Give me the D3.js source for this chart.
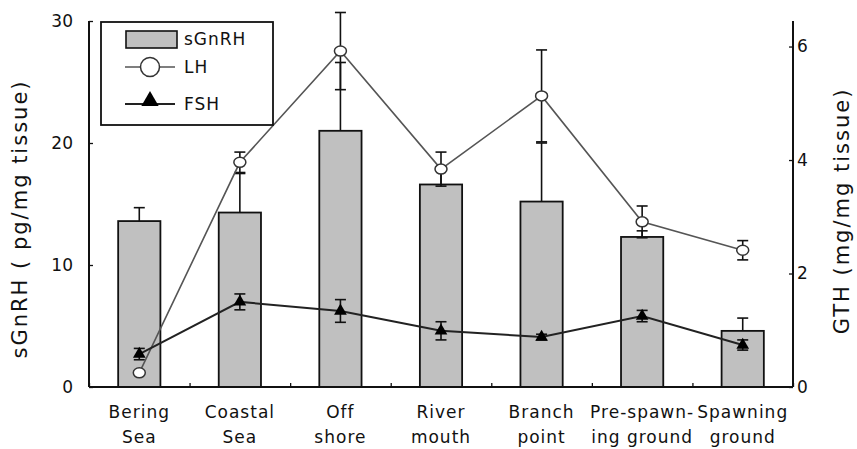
<!DOCTYPE html>
<html>
<head>
<meta charset="utf-8">
<script src="https://cdn.jsdelivr.net/npm/d3@7/dist/d3.min.js"></script>
<style>
  html, body { margin: 0; padding: 0; background: #fff; }
  svg { display: block; }
  text { font-family: "DejaVu Sans", "Liberation Sans", Arial, sans-serif; fill: #111; }
</style>
</head>
<body>
<svg id="chart" width="857" height="449"></svg>
<script>
// Sampling sites along the migration route (two-line labels)
const categories = [
  ["Bering", "Sea"],
  ["Coastal", "Sea"],
  ["Off", "shore"],
  ["River", "mouth"],
  ["Branch", "point"],
  ["Pre-spawn-", "ing ground"],
  ["Spawning", "ground"]
];

// sGnRH content (pg/mg tissue), left axis
const sGnRH    = [13.6, 14.3, 21.0, 16.6, 15.2, 12.3, 4.6];
const sGnRHErr = [1.1, 3.2, 5.6, 1.3, 4.8, 0.5, 1.05];

// LH content (mg/mg tissue), right axis
const LH    = [0.25, 3.96, 5.92, 3.84, 5.13, 2.91, 2.41];
const LHErr = [0, 0.18, 0.68, 0.3, 0.81, 0.28, 0.17];

// FSH content (mg/mg tissue), right axis
const FSH    = [0.58, 1.5, 1.34, 0.99, 0.88, 1.25, 0.74];
const FSHErr = [0.1, 0.14, 0.2, 0.16, 0.05, 0.1, 0.09];

const leftTicks  = [0, 10, 20, 30];
const rightTicks = [0, 2, 4, 6];

const svg = d3.select("#chart");
const plot = { left: 89, right: 793, top: 21, bottom: 387 };

const idx = d3.range(categories.length);
const x = d3.scaleBand().domain(idx).range([plot.left, plot.right]).padding(0);
const xEdge = d3.scaleLinear().domain([0, categories.length]).range([plot.left, plot.right]);
const yL = d3.scaleLinear().domain([0, 30]).range([plot.bottom, plot.top]);
const yR = d3.scaleLinear().domain([0, 6.45]).range([plot.bottom, plot.top]);

const cx = i => x(i) + x.bandwidth() / 2;
const barW = x.bandwidth() * 0.42;
const capW = 11;

// Bars
svg.append("g").selectAll("rect")
  .data(idx).join("rect")
  .attr("x", i => cx(i) - barW / 2)
  .attr("y", i => yL(sGnRH[i]))
  .attr("width", barW)
  .attr("height", i => yL(0) - yL(sGnRH[i]))
  .attr("fill", "#c0c0c0")
  .attr("stroke", "#111")
  .attr("stroke-width", 1.8);

// Upper error bars for sGnRH
const eg = svg.append("g").attr("stroke", "#111").attr("stroke-width", 1.6);
idx.forEach(i => {
  const y0 = yL(sGnRH[i]), y1 = yL(sGnRH[i] + sGnRHErr[i]);
  eg.append("line").attr("x1", cx(i)).attr("x2", cx(i)).attr("y1", y0).attr("y2", y1);
  eg.append("line").attr("x1", cx(i) - capW / 2).attr("x2", cx(i) + capW / 2).attr("y1", y1).attr("y2", y1);
});

// Two-sided error bars for the GTH series
function gthErrors(vals, errs) {
  idx.forEach(i => {
    if (!errs[i]) return;
    const yt = yR(vals[i] + errs[i]), yb = yR(vals[i] - errs[i]);
    eg.append("line").attr("x1", cx(i)).attr("x2", cx(i)).attr("y1", yt).attr("y2", yb);
    [yt, yb].forEach(yy => eg.append("line")
      .attr("x1", cx(i) - capW / 2).attr("x2", cx(i) + capW / 2)
      .attr("y1", yy).attr("y2", yy));
  });
}
gthErrors(LH, LHErr);
gthErrors(FSH, FSHErr);

// Lines
const lhLine = d3.line().x(i => cx(i)).y(i => yR(LH[i]));
const fshLine = d3.line().x(i => cx(i)).y(i => yR(FSH[i]));
svg.append("path").attr("d", lhLine(idx)).attr("fill", "none")
  .attr("stroke", "#555").attr("stroke-width", 1.6);
svg.append("path").attr("d", fshLine(idx)).attr("fill", "none")
  .attr("stroke", "#222").attr("stroke-width", 2);

// Markers
const tri = d3.symbol().type(d3.symbolTriangle);
svg.append("g").selectAll("path")
  .data(idx).join("path")
  .attr("d", tri.size(70)())
  .attr("transform", i => `translate(${cx(i)},${yR(FSH[i])})`)
  .attr("fill", "#000");
svg.append("g").selectAll("ellipse")
  .data(idx).join("ellipse")
  .attr("cx", i => cx(i)).attr("cy", i => yR(LH[i]))
  .attr("rx", 6).attr("ry", 5)
  .attr("fill", "#fff").attr("stroke", "#333").attr("stroke-width", 1.5);

// Axes
const axL = d3.axisLeft(yL).tickValues(leftTicks).tickSize(-4).tickPadding(16).tickFormat(d3.format("d"));
const axR = d3.axisRight(yR).tickValues(rightTicks).tickSize(-4).tickPadding(4).tickFormat(d3.format("d"));
const axB = d3.axisBottom(xEdge).tickValues(d3.range(categories.length + 1)).tickSize(-4).tickFormat("");

function styleAxis(g) {
  g.select(".domain").attr("stroke", "#111").attr("stroke-width", 2);
  g.selectAll(".tick line").attr("stroke", "#111").attr("stroke-width", 1.3);
  g.selectAll(".tick text").attr("font-size", 17)
    .attr("font-family", "DejaVu Sans, Liberation Sans, sans-serif").attr("fill", "#111");
}
svg.append("g").attr("transform", `translate(${plot.left},0)`).call(axL).call(styleAxis)
  .call(g => g.select(".domain").attr("d", `M0,${plot.top}V${plot.bottom}`));
svg.append("g").attr("transform", `translate(${plot.right},0)`).call(axR).call(styleAxis)
  .call(g => g.select(".domain").attr("d", `M0,${plot.top}V${plot.bottom}`));
svg.append("g").attr("transform", `translate(0,${plot.bottom})`).call(axB).call(styleAxis)
  .call(g => g.select(".domain").attr("d", `M${plot.left},0H${plot.right}`));

// Category labels
const lab = svg.append("g").attr("font-size", 17).attr("text-anchor", "middle")
  .style("letter-spacing", "1px");
idx.forEach(i => {
  lab.append("text").attr("x", cx(i)).attr("y", 418).text(categories[i][0]);
  lab.append("text").attr("x", cx(i)).attr("y", 443).text(categories[i][1]);
});

// Axis titles
svg.append("text")
  .attr("transform", "translate(27,219) rotate(-90)")
  .attr("text-anchor", "middle").attr("font-size", 21)
  .style("letter-spacing", "2px")
  .text("sGnRH ( pg/mg tissue)");
svg.append("text")
  .attr("transform", "translate(849,211) rotate(-90)")
  .attr("text-anchor", "middle").attr("font-size", 21)
  .style("letter-spacing", "2px")
  .text("GTH (mg/mg tissue)");

// Legend
const lg = svg.append("g");
lg.append("rect").attr("x", 101).attr("y", 22).attr("width", 172).attr("height", 103)
  .attr("fill", "#fff").attr("stroke", "#111").attr("stroke-width", 1.8);
lg.append("rect").attr("x", 126).attr("y", 31).attr("width", 51).attr("height", 17)
  .attr("fill", "#c0c0c0").attr("stroke", "#111").attr("stroke-width", 1.6);
lg.append("line").attr("x1", 125).attr("x2", 175).attr("y1", 67).attr("y2", 67)
  .attr("stroke", "#555").attr("stroke-width", 1.6);
lg.append("circle").attr("cx", 150).attr("cy", 67).attr("r", 9.5)
  .attr("fill", "#fff").attr("stroke", "#333").attr("stroke-width", 1.5);
lg.append("line").attr("x1", 125).attr("x2", 175).attr("y1", 104).attr("y2", 104)
  .attr("stroke", "#222").attr("stroke-width", 2);
lg.append("path").attr("d", tri.size(130)()).attr("transform", "translate(150,101)").attr("fill", "#000");
const lt = lg.append("g").attr("font-size", 17).style("letter-spacing", "1px");
lt.append("text").attr("x", 184).attr("y", 45).text("sGnRH");
lt.append("text").attr("x", 184).attr("y", 73).text("LH");
lt.append("text").attr("x", 184).attr("y", 110).text("FSH");
</script>
</body>
</html>
